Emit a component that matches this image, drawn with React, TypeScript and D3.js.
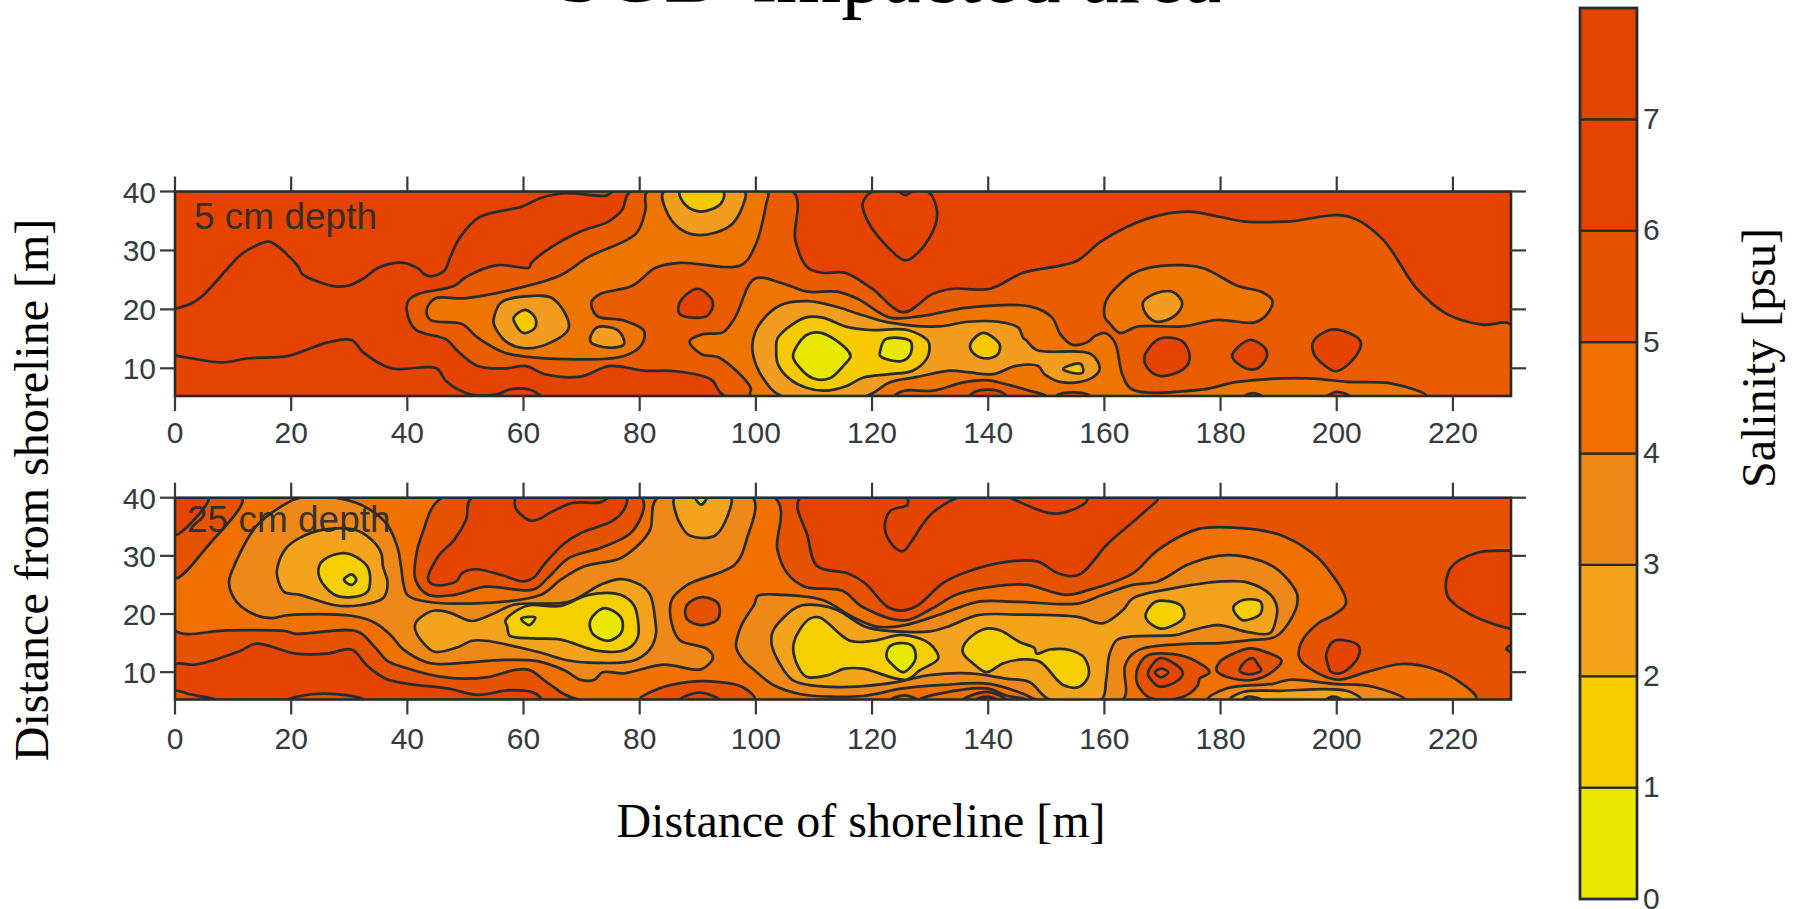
import React from "react";
import * as d3 from "d3";

type P = [number, number];
type Layer = { band: number | null; pts: P[]; open?: boolean };

const xTicks = [0, 20, 40, 60, 80, 100, 120, 140, 160, 180, 200, 220];
const yTicks = [10, 20, 30, 40];
const legendTicks = [0, 1, 2, 3, 4, 5, 6, 7];
const legendColors = ["#e8e800", "#f5cd00", "#f3a41c", "#ee8818", "#ef7000", "#e65300", "#e44400", "#e44400"];
const upperColors = ["#e8e800", "#f6c900", "#f29c20", "#ee7600", "#e95c00", "#e44400"];
const lowerColors = ["#e8e800", "#f5cf00", "#f3a41c", "#ee8818", "#f07000", "#e65300", "#e44400"];

/* ---------- 5 cm depth: isolines in metres ---------- */
const u7Upper: P[] = [[0,20.1],[2.8,21],[4.5,22.1],[6.5,24.1],[9.3,27.2],[11.6,29.5],[16.1,31.5],[17.4,30.9],[21.2,27.3],[21.9,26],[24.9,24.6],[27.6,23.9],[29.7,24],[32.4,25.2],[35.1,27.1],[39.2,27.9],[41.9,26.9],[42.9,26],[44.1,25.6],[46.4,26.6],[47.4,28.9],[49.1,32.3],[52.5,35.7],[59.6,37.4],[63,38.9],[67.1,39.7],[72.6,39.3],[74.3,39.3],[75.3,40]];
const u7Lower: P[] = [[0,12.2],[2.8,11.7],[8.2,11],[12.7,11.7],[19.5,12.1],[26.3,14.4],[30.4,14.8],[32.4,12.7],[37.2,10],[45,10],[46.7,7.8],[50.8,5.6],[55.5,5.6],[57.6,6.4],[61,6.4],[63,5.3]];
const u7Heart: P[] = [[120.1,40],[118.4,38],[119.3,34.9],[123,30.3],[125.7,28.3],[128.3,30],[130.9,34.3],[131.1,37.2],[129.6,40],[127,40],[125.7,39.4],[124.5,40]];
const uMain5: P[] = [[78.4,40],[106.4,40],[106.8,31.7],[109,27],[111.5,26.2],[115.4,26.2],[120,23.5],[125.4,19.5],[130.4,22.6],[133.9,23.5],[140.3,23.5],[146,26.2],[152.8,27.5],[155.4,28.3],[159.7,31.7],[167.4,35.4],[174.3,36.6],[184.2,34.9],[191.5,34.9],[201.8,35.8],[207.8,32],[213.8,23.5],[219,19.2],[225,17.4],[230,17.4],[230,5.3],[94.7,5.3],[92.3,8.1],[86.2,9.5],[80.7,9.6],[74.9,10.4],[69.8,8.6],[63.7,9],[60.3,10.4],[56.9,10],[52.1,10.4],[48.7,12.9],[46.7,14.9],[41.4,16.6],[39.9,19.8],[40.2,21.5],[41.9,22.6],[48.1,24],[50.1,25.5],[55.5,27.5],[61,27.1],[61.3,27.8],[64.4,30.3],[69.8,33.2],[74.6,34.9],[77,36.9]];
const uDot90: P[] = [[86.9,21.2],[90,23.5],[92.6,21.2],[91.6,18.9],[86.9,19.2]];
const uDot170: P[] = [[166.9,12],[169.5,15],[173.4,14.6],[174.7,12],[173.8,10],[169.5,8.7],[167.3,10.2]];
const uDot185: P[] = [[182,12.1],[185,14.8],[187.6,13.5],[188,12.1],[186.4,10],[184.3,10]];
const uDot200: P[] = [[196,14.6],[199.4,16.6],[204.1,14.6],[203.3,12.1],[199.9,9.5],[197.3,11],[196,12.6]];
const uLeft4: P[] = [[81.3,40],[102,40],[101.8,38],[99.8,30.6],[97.4,27.5],[86.9,27.9],[82.8,27.1],[78.7,24],[73.2,22.6],[71.7,21.2],[72.6,18.9],[77.3,18.1],[80.7,16.4],[80.4,14.1],[77.3,12.1],[63.7,11.7],[56.9,12.6],[52.1,15.2],[49.4,17.5],[44,18.2],[43.3,19.8],[44.7,21.8],[50.1,21.9],[60.3,23.9],[66.4,25.8],[71.2,28.9],[79.4,32.9],[81,36.9]];
const uCentral4: P[] = [[88.6,14.6],[90.9,15.8],[94.3,16.1],[96.4,18.6],[99.8,25.2],[104.6,24.4],[108.9,23],[114,23],[117.5,21.8],[123.1,18.6],[128.7,18.9],[136.5,20.3],[147.2,20.5],[151,18.6],[152.4,15.8],[154.5,14],[157,14.4],[158.4,15.5],[160.1,16],[161.8,14.4],[163.1,8.9],[164.8,6.4],[176.9,6.4],[182.9,7.7],[195,8.3],[201.8,7.7],[209.5,7.4],[215.5,5.3],[99.1,5.3],[99.1,6.7],[93.7,11.8],[90.6,12.4]];
const uRight4: P[] = [[160.1,20.9],[161,22.6],[164.8,26],[167.4,27],[173.4,27.5],[177.3,26.9],[182.9,24],[187.2,22.9],[188.9,21.5],[188,19.2],[185.9,17.8],[179.4,18.2],[173.4,17.1],[165.7,17.1],[162.7,16],[161,17.5],[160.1,18.6]];
const uBottom5: P[] = [[123.9,5.3],[125.6,6.2],[130.5,6.2],[135.7,7.6],[139.7,8],[143.1,7.3],[147.1,6.2],[150,5.3]];
const uBottom6: P[] = [[136.8,5.3],[138.2,6.2],[141.7,6.2],[143.1,5.3]];
const uBottomSmall5: P[] = [[151.7,5.3],[152.9,5.8],[156.3,5.8],[157.5,5.3]];
const uBottomSmallA: P[] = [[184.2,5.3],[185.5,5.8],[187.1,5.3]];
const uBottomSmallB: P[] = [[198.4,5.3],[200.1,6],[202.2,5.3]];
const uTop3: P[] = [[84.1,40],[84.5,36.9],[86.9,33.7],[90.3,32.6],[95.7,34.3],[98.1,38.6],[98.1,40]];
const uTop2: P[] = [[86.9,40],[87.9,37.7],[90.6,36.6],[94,38],[94.4,40]];
const uRing60: P[] = [[54.9,18.6],[56.2,21.2],[60.3,22.2],[65.1,21.8],[67.8,16.9],[64.7,14.4],[60.3,13.4],[56.9,14.6],[54.9,17.5]];
const uCore60: P[] = [[58.3,18.6],[60.3,19.9],[62,18.6],[62,16.9],[60,16],[58.6,17.5]];
const uSmall75: P[] = [[72.6,16.9],[76.3,16.4],[77.3,14.1],[74.6,13.5],[71.5,14.6]];
const uCentral3: P[] = [[99.5,14.7],[100.5,17.3],[104.2,20.7],[109,21.4],[114,20.4],[118.4,19],[122.8,17.8],[131.4,17.1],[136.5,17.9],[141.7,17.9],[145.2,16.9],[146,15.2],[146.6,14.7],[148.3,13.1],[157.7,12.4],[159.2,9.9],[157.5,8.2],[152.9,7.6],[149.7,9],[148.6,10.4],[144.8,10.4],[140.8,9],[136.8,9.3],[133.4,9.6],[127.6,8.5],[123,7.6],[119,5.3],[104.4,5.3],[101.2,8.4],[99.5,12.4]];
const uCentral2: P[] = [[103.5,13],[103.8,15.2],[108.5,18.6],[111.5,18.6],[115.4,17.1],[119.7,16.5],[126.1,16.5],[129.6,14.7],[129.9,13.6],[129.4,11.6],[127,9.6],[123,9],[118.4,8.4],[115.6,7],[111.9,6.2],[108.7,6.7],[105.8,8.2],[103.8,10.7]];
const uCore110: P[] = [[106.4,12.1],[108.5,15.5],[110.7,16.1],[114,14.6],[116.3,12.1],[115.3,10.7],[112.7,8.3],[109.8,8.3],[107.3,10.4]];
const uCore125: P[] = [[121.4,12.9],[122.3,14.9],[126.6,14.6],[126.6,12.4],[125,11.2],[121.4,12.1]];
const uCore140: P[] = [[136.9,14],[139.1,16],[142,14],[141.5,12.2],[139.2,11.7],[137.4,12.6]];
const uCore155: P[] = [[152.9,9.9],[155.2,10.8],[156,10.7],[156.3,9.3],[154.6,9.2]];
const uRing170: P[] = [[166.6,21],[168.3,22.5],[171.7,23],[173.4,21],[172.1,18.9],[169.1,17.9],[167.4,18.9]];

const upperLayers: Layer[] = [
  { band: null, pts: u7Upper, open: true },
  { band: null, pts: u7Lower, open: true },
  { band: 5, pts: u7Heart },
  { band: 4, pts: uMain5 },
  { band: 5, pts: uDot90 },
  { band: 5, pts: uDot170 },
  { band: 5, pts: uDot185 },
  { band: 5, pts: uDot200 },
  { band: 3, pts: uLeft4 },
  { band: 3, pts: uCentral4 },
  { band: 3, pts: uRight4 },
  { band: 4, pts: uBottom5 },
  { band: 5, pts: uBottom6 },
  { band: 4, pts: uBottomSmall5 },
  { band: 4, pts: uBottomSmallA },
  { band: 4, pts: uBottomSmallB },
  { band: 2, pts: uTop3 },
  { band: 1, pts: uTop2 },
  { band: 2, pts: uRing60 },
  { band: 1, pts: uCore60 },
  { band: 2, pts: uSmall75 },
  { band: 2, pts: uCentral3 },
  { band: 1, pts: uCentral2 },
  { band: 0, pts: uCore110 },
  { band: 0, pts: uCore125 },
  { band: 1, pts: uCore140 },
  { band: 1, pts: uCore155 },
  { band: 2, pts: uRing170 },
];

/* ---------- 25 cm depth: isolines in metres ---------- */
const lCorner5: P[] = [[0,40],[11.6,40],[5.9,32],[0,26.2]];
const lCorner6: P[] = [[0,40],[5.8,40],[0,33.6]];
const lLowerLeft6: P[] = [[0,11.3],[3.5,11.3],[11.3,13.7],[14,14.9],[20.8,13.2],[26.3,13.2],[30.4,13.9],[33.1,11.1],[36.5,8.8],[47.4,7.1],[52.1,6.1],[57.6,6.9],[61.7,6.5],[63,5.3],[0,5.3]];
const lLowerCorner5: P[] = [[0,6.8],[2.5,6.2],[6.9,5.3],[0,5.3]];
const lLowerBump5: P[] = [[19.5,5.3],[23.6,6.2],[29.7,6],[32.4,5.3]];
const lCentre6: P[] = [[107.6,40],[108.9,33.4],[110.6,28.2],[115.8,27],[118.8,25.3],[122.7,21.2],[125.3,20.6],[127.9,21.5],[132.2,25.3],[136.5,27.3],[143.4,29],[148.6,29],[152,27],[155.5,26.7],[160.7,32.2],[167.4,38],[169.2,40]];
const lLine7a: P[] = [[126.1,40],[126.1,38.8],[123.1,37.7],[122.2,34.8],[123.5,31.9],[125.3,30.8],[127,32.8],[128.5,35.1],[130.4,37.4],[133.4,39.4],[134.7,40]];
const lLine7b: P[] = [[143.8,40],[150.3,37.4],[152.8,37.4],[156.7,39.1],[157.2,40]];
const lRightBlob6: P[] = [[230,30.9],[224,30.5],[219.6,27.9],[219,23.3],[222.7,20.1],[230,17.5],[233,17.5],[233,30.9]];
const lRightSpot: P[] = [[230,14.6],[229.2,14],[230,13.5]];
const lDot200: P[] = [[198.2,13.2],[199.6,15.4],[203.7,14.6],[203.7,12.6],[201.1,10],[199.1,10],[198.2,12.4]];
const lMain4: P[] = [[0,17.2],[9,17.2],[18.8,17.1],[20.8,16.6],[31.4,17],[34.4,14.3],[36.5,12],[39.2,10.9],[46.7,9.1],[53.5,9.1],[58.6,10.4],[61,10.4],[64.4,8],[69.5,5.3],[224,5.3],[221.2,8.3],[216.6,10.6],[211.1,11.4],[205.1,10],[200.2,8.7],[195.9,10.3],[193.6,12.4],[193.8,14.9],[196.8,18.4],[199.4,19.8],[201.6,21.9],[197.7,28.7],[195.1,31],[189.9,33.7],[183,34.8],[176.1,34.6],[169.2,31],[164.9,27],[157.2,24.1],[153.3,23.3],[146.8,25],[143.4,25],[134.7,23.4],[130.4,21],[125.7,18.9],[118.4,21.2],[114.9,24],[108.4,24.7],[105.4,27],[103.7,31.1],[103.3,40],[11.6,40],[5.9,32],[0,26.2]];
const lHole5: P[] = [[46,40],[42.6,33.9],[41.4,29.3],[41.4,25.9],[43.6,23.3],[48.1,23.3],[53.5,24.7],[61.7,24.2],[64.4,26.4],[67.8,29.6],[73.9,31.6],[79,34.5],[80.4,40]];
const lHole6: P[] = [[51.1,40],[50.1,36.2],[48.1,32.8],[45.3,29.9],[43.6,25.9],[44.7,25],[48.4,25.6],[49.4,27],[51.8,27.7],[56.2,26.7],[60,25.6],[61.7,26.2],[63.7,28.7],[67.1,32.2],[69.8,33.9],[75.3,36],[77.3,38],[77.7,40]];
const lLine7c: P[] = [[58.6,40],[58.6,38.3],[61,36.1],[62.4,36.2],[65.1,37.7],[68.5,39.1],[73.2,39.2],[74.6,40]];
const lHex90: P[] = [[88.1,21.5],[90.7,22.9],[93.5,21.8],[93.5,19.2],[90.7,18.1],[88.1,19.2]];
const lBump85: P[] = [[80,5.3],[83.1,7.1],[88.2,8.3],[93.7,8.3],[97.8,7.4],[99.8,5.3]];
const lBump85Inner: P[] = [[86.9,5.3],[90.3,6.5],[93.7,5.3]];
const lBumpA: P[] = [[123.2,5.3],[125.6,6],[127.8,5.3]];
const lBumpB: P[] = [[128.2,5.3],[131.6,6.3],[139.7,7.2],[143.1,6],[146.5,5.3]];
const lBumpC: P[] = [[135.7,5.3],[139.7,6.6],[143.1,5.3]];
const lBumpD: P[] = [[138,5.3],[139.7,5.8],[141.4,5.3]];
const lRing170: P[] = [[165.5,8.6],[165.8,10.9],[167.5,12.9],[170.7,13.2],[174.7,12.4],[178.1,10],[176.4,8.9],[176.1,7.8],[174.1,6],[171.2,5.3],[167.8,5.6],[166.1,7.2]];
const lInner170: P[] = [[167.5,9.8],[169.5,12.4],[171.5,11.8],[173.5,10],[172.7,8.6],[169.5,7.5],[168.1,8.6]];
const lCore170: P[] = [[168.7,10],[169.8,10.6],[171,10],[169.8,9.1],[169,9.5]];
const lRing185: P[] = [[179.3,10.3],[179.9,11.8],[181.6,12.9],[185,14.1],[188.5,13.2],[190.5,12],[188.5,9.8],[185.6,8.7],[182.1,8.9]];
const lInner185: P[] = [[183.3,10.3],[184.2,11.8],[185.6,12.4],[186.5,11.2],[187,10.3],[185.6,9.7],[183.9,9.8]];
const lOuterWest3: P[] = [[21.5,40],[27.6,40],[32.4,38.6],[36.5,35.4],[38.4,31.1],[38.9,28.2],[39.9,23.4],[41.9,22.4],[50.8,21.8],[63,23.3],[66.4,25.9],[70.5,28.2],[76.7,29.6],[80.1,32.2],[81.8,34.5],[83.1,40],[99.5,40],[98.4,32.8],[96.4,28.5],[88.2,25],[85.5,22.4],[85.5,18.4],[86.9,15.5],[91.6,14],[92.6,12.5],[90.6,10.5],[84.1,11.3],[77.3,9.8],[73.6,10],[72.2,8.7],[69.8,8.7],[67.1,10.3],[62.4,11.9],[56.9,12.1],[45.3,11.4],[43.3,11.7],[39.2,14],[37.2,16.3],[34.4,18.5],[30.4,19.7],[19.5,19.8],[16.7,19.3],[14,19.8],[10.6,22.1],[9.3,25.3],[9.9,27.6],[14,35.1],[18.8,38.8]];
const lOuterEast3: P[] = [[96.6,14.4],[97.5,18],[99.8,21.8],[100.3,23.1],[104.6,23.3],[111.5,22.4],[116.6,19.5],[121,17.8],[125.7,18.1],[132.2,20.1],[138.2,22.1],[145.1,22.1],[155.4,21.8],[159.7,23.3],[164.9,25],[169.2,25.6],[174.4,28.5],[179.6,30],[183.9,29.9],[189,28.2],[191.6,25.9],[193.2,23.3],[192.9,20.7],[189.6,16.2],[185,15.5],[179.9,15],[174.7,14.9],[166.7,14.1],[164.6,12.9],[163.5,10.9],[163.2,5.3],[148.3,5.3],[146,6.3],[140.2,8],[132.2,7.8],[125.3,7.2],[118.4,5.9],[112.7,5.8],[107.8,6.2],[103,7.8],[99.8,10.3],[97.8,12.1]];
const lBlob30A: P[] = [[17.6,27.9],[19.1,31.3],[21.5,33.1],[25.6,34.5],[31,34.5],[33.8,32.8],[35.5,30.5],[35.8,28.2],[36.6,25.3],[35.8,22.7],[31.7,21.5],[27.6,21.5],[21.5,23.3],[18.8,23.8],[17.6,26.4]];
const lBlob30B: P[] = [[24.8,28.2],[25.6,29.3],[28.3,30.4],[30.4,30.2],[33.1,28.2],[33.6,25.9],[33.1,23.8],[30.4,22.9],[27.3,23.4],[24.9,26.2]];
const lBlob30C: P[] = [[29.1,25.9],[30.4,26.8],[31.2,25.9],[30.4,25]];
const lChannel2: P[] = [[41.4,18.4],[43.3,20.1],[44.7,20.6],[47.4,20.2],[51.1,18.8],[54.9,20.1],[58.3,21.6],[67.8,22.1],[73.2,25],[76.7,26],[80.1,25],[81.8,23.3],[82.6,19.5],[82.8,16.6],[81.8,14],[79,12],[72.6,11.6],[67.8,12],[62.4,13.5],[53.5,15.4],[51.1,15.4],[48.7,14.3],[44.7,13.5],[42.6,15.2],[41.4,17.2]];
const lChannel1: P[] = [[56.9,18.9],[59,20.7],[61,21.5],[66.4,21.4],[71.2,23.3],[76.7,23.3],[79,21.5],[79.7,18.9],[79.7,16.1],[78.4,14.3],[76.7,13.6],[72.6,13.7],[66.4,15.6],[61.7,15.8],[57.6,16.3],[57.2,17.8]];
const lChannel0: P[] = [[71.5,18.9],[73.9,21],[76.7,19.5],[77.1,17.8],[76.7,16.6],[74.6,15.4],[71.9,16.6]];
const lSpot60: P[] = [[59.6,19.2],[62,19.4],[61,18.1]];
const lTop2: P[] = [[86,40],[86.2,37.4],[87.2,35.1],[88.6,33.5],[93,33.5],[95.7,38.6],[95.7,40]];
const lTop1: P[] = [[89.6,40],[90.6,38.8],[91.5,40]];
const lEast2: P[] = [[103,17.2],[106.3,20.7],[108,21.5],[111,21.5],[114,20.7],[118.8,17.8],[121.8,17.2],[130,17],[133,17.8],[138.2,19.8],[145.1,19.9],[155.4,19.5],[159.7,18.4],[163.2,20.7],[164.9,22.7],[171.8,24.4],[180.4,25.6],[184.7,25.4],[188.6,23.3],[189.7,21.2],[189.5,18.9],[188.5,16.7],[184.7,16.9],[179.6,18.1],[174.4,17],[172.4,16.4],[164.4,16.1],[162.1,15.5],[160.9,13.2],[160.3,8.6],[159.5,5.3],[150.6,5.3],[147.1,8.3],[143.1,8.9],[136.8,9.8],[129.9,9.5],[124.2,8.3],[118.4,7.6],[112.1,7.5],[106.4,8.6],[104.1,11.5],[102.7,14.9]];
const lEast1A: P[] = [[106.5,14.9],[107.5,17.2],[109.3,19.2],[111,19.4],[116.2,15.4],[120.2,15.4],[125.3,16.4],[129.9,14.9],[131.4,12.4],[128.2,10.3],[125.9,8.7],[118.4,10.6],[115.3,10.6],[112.4,9.5],[108.7,9.2],[107.3,10.9],[106.5,13.2]];
const lEast0: P[] = [[122.5,12.6],[123,14.4],[124.8,15],[126.8,14.6],[127.5,13.2],[127.3,11.8],[125.4,10],[123.6,11.2]];
const lEast1B: P[] = [[135.7,14.4],[137.4,16.4],[139.7,17.5],[142,17.2],[145.4,15.2],[148,14.1],[148.3,13.2],[150.6,13.9],[154,13.8],[156.6,12.4],[157.3,9.5],[155.7,7.5],[152.9,7.8],[148.9,11.8],[146,12.2],[142.5,11.5],[139.7,10],[137.4,11.5],[135.7,13.2]];
const lEast1C: P[] = [[167.1,19.5],[168.8,22.1],[173.1,21.5],[173.7,19.5],[169.7,17.5]];
const lEast1D: P[] = [[182.2,21.2],[183.9,22.4],[186.9,22.1],[186.9,20.1],[183.9,18.9],[183,19.5]];
const lLens3: P[] = [[177.8,5.3],[181,7.2],[189,8],[191.9,8.7],[199.4,8],[206.2,7.5],[211.7,5.3]];
const lLens2: P[] = [[181.6,5.3],[183.9,6.6],[190.2,6.8],[201.7,6.8],[204.2,5.3]];
const lLensA: P[] = [[183.9,5.3],[184.7,5.8],[187,5.3]];
const lLensB: P[] = [[198.2,5.3],[199.4,5.8],[200.8,5.3]];

const lowerLayers: Layer[] = [
  { band: 6, pts: lLowerLeft6 },
  { band: 5, pts: lLowerCorner5 },
  { band: 5, pts: lLowerBump5 },
  { band: 6, pts: [...lCentre6] },
  { band: null, pts: lLine7a, open: true },
  { band: null, pts: lLine7b, open: true },
  { band: 6, pts: lRightBlob6 },
  { band: 6, pts: lRightSpot },
  { band: 6, pts: lDot200 },
  { band: 4, pts: lMain4 },
  { band: 5, pts: lCorner5 },
  { band: 6, pts: lCorner6 },
  { band: 5, pts: lHole5 },
  { band: 6, pts: lHole6 },
  { band: null, pts: lLine7c, open: true },
  { band: 5, pts: lHex90 },
  { band: 5, pts: lBump85 },
  { band: 6, pts: lBump85Inner },
  { band: 5, pts: lRing170 },
  { band: 6, pts: lInner170 },
  { band: 5, pts: lCore170 },
  { band: 5, pts: lRing185 },
  { band: 6, pts: lInner185 },
  { band: 3, pts: lOuterWest3 },
  { band: 3, pts: lOuterEast3 },
  { band: 3, pts: lLens3 },
  { band: 2, pts: lLens2 },
  { band: 1, pts: lLensA },
  { band: 1, pts: lLensB },
  { band: 4, pts: lBumpA },
  { band: 4, pts: lBumpB },
  { band: 5, pts: lBumpC },
  { band: 6, pts: lBumpD },
  { band: 2, pts: lBlob30A },
  { band: 1, pts: lBlob30B },
  { band: 0, pts: lBlob30C },
  { band: 2, pts: lChannel2 },
  { band: 1, pts: lChannel1 },
  { band: 0, pts: lChannel0 },
  { band: 0, pts: lSpot60 },
  { band: 2, pts: lTop2 },
  { band: 1, pts: lTop1 },
  { band: 2, pts: lEast2 },
  { band: 1, pts: lEast1A },
  { band: 0, pts: lEast0 },
  { band: 1, pts: lEast1B },
  { band: 1, pts: lEast1C },
  { band: 1, pts: lEast1D },
];

const INK = "#262b2e";
const LABEL = "#353a3e";
const SANS = "'Liberation Sans', Arial, sans-serif";
const SERIF = "'Liberation Serif', 'Times New Roman', serif";
const TICK_FONT = 30;

function Panel({ id, layers, colors, base, top, bottom, label, labelX, labelY, tickLabelY }: {
  id: string; layers: Layer[]; colors: string[]; base: string; top: number; bottom: number;
  label: string; labelX: number; labelY: number; tickLabelY: number;
}) {
  const x = d3.scaleLinear().domain([0, 230]).range([175, 1511]);
  const y = d3.scaleLinear().domain([5.3, 40]).range([bottom, top]);
  const closed = d3.line<P>().x(d => x(d[0])).y(d => y(d[1])).curve(d3.curveCatmullRomClosed.alpha(0.5));
  const open = d3.line<P>().x(d => x(d[0])).y(d => y(d[1])).curve(d3.curveCatmullRom.alpha(0.5));
  return (
    <g>
      <clipPath id={id}><rect x={175} y={top} width={1336} height={bottom - top} /></clipPath>
      <rect x={175} y={top} width={1336} height={bottom - top} fill={base} />
      <g clipPath={`url(#${id})`}>
        {layers.map((l, i) => (
          <path key={i} d={(l.open ? open : closed)(l.pts) ?? ""}
            fill={l.band === null ? "none" : colors[l.band]} stroke={INK} strokeWidth={2.7} strokeLinejoin="round" />
        ))}
      </g>
      <text x={labelX} y={labelY} fontFamily={SANS} fontSize={37} fill={INK} fillOpacity={0.93}>{label}</text>
      <rect x={175} y={top} width={1336} height={bottom - top} fill="none" stroke={INK} strokeWidth={2.6} />
      {xTicks.map(t => (
        <g key={t}>
          <line x1={x(t)} x2={x(t)} y1={top - 15} y2={top} stroke={LABEL} strokeWidth={2.2} />
          <line x1={x(t)} x2={x(t)} y1={bottom} y2={bottom + 15} stroke={LABEL} strokeWidth={2.2} />
          <text x={x(t)} y={tickLabelY} textAnchor="middle" fontFamily={SANS} fontSize={TICK_FONT} fill={LABEL}>{t}</text>
        </g>
      ))}
      {yTicks.map(t => (
        <g key={t}>
          <line x1={160} x2={175} y1={y(t)} y2={y(t)} stroke={LABEL} strokeWidth={2.2} />
          <line x1={1511} x2={1526} y1={y(t)} y2={y(t)} stroke={LABEL} strokeWidth={2.2} />
          <text x={156} y={y(t) + 11} textAnchor="end" fontFamily={SANS} fontSize={TICK_FONT} fill={LABEL}>{t}</text>
        </g>
      ))}
    </g>
  );
}

export default function App() {
  const lg = d3.scaleLinear().domain([0, 8]).range([899, 8]);
  return (
    <svg width={1798} height={909} style={{ position: "absolute", left: 0, top: 0, display: "block", background: "#fff" }}>
      <text x={889} y={2} textAnchor="middle" fontFamily={SERIF} fontSize={84} fill="#000">SGD-impacted area</text>
      <Panel id="clipUpper" layers={upperLayers} colors={upperColors} base={upperColors[5]} top={191.5} bottom={396} label="5 cm depth" labelX={194} labelY={229} tickLabelY={443} />
      <Panel id="clipLower" layers={lowerLayers} colors={lowerColors} base={lowerColors[5]} top={497.7} bottom={699.5} label="25 cm depth" labelX={187} labelY={532} tickLabelY={749} />
      <text x={861} y={837} textAnchor="middle" fontFamily={SERIF} fontSize={48} fill="#000">Distance of shoreline [m]</text>
      <text transform="translate(48,490) rotate(-90)" textAnchor="middle" fontFamily={SERIF} fontSize={48} fill="#000">Distance from shoreline [m]</text>
      <text transform="translate(1775,358) rotate(-90)" textAnchor="middle" fontFamily={SERIF} fontSize={48} fill="#000">Salinity [psu]</text>
      {legendColors.map((c, i) => (
        <rect key={i} x={1580} width={57} y={lg(i + 1)} height={lg(i) - lg(i + 1)} fill={c} stroke={INK} strokeWidth={2.2} />
      ))}
      <rect x={1580} width={57} y={lg(8)} height={lg(0) - lg(8)} fill="none" stroke={INK} strokeWidth={2.6} />
      {legendTicks.map(t => (
        <text key={t} x={1643} y={lg(t) + 9.5} fontFamily={SANS} fontSize={TICK_FONT} fill={LABEL}>{t}</text>
      ))}
    </svg>
  );
}
